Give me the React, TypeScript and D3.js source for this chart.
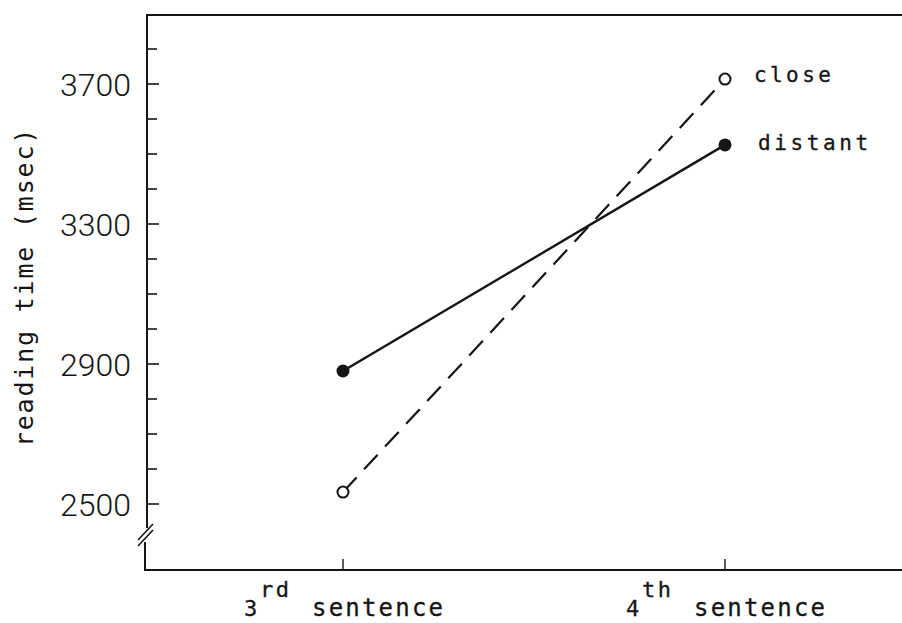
import React from 'react';
import * as d3 from 'd3';

const sentences = ['3rd', '4th'];
const sentenceNums = ['3', '4'];
const sentenceSups = ['rd', 'th'];
const closeValues = [2534, 3714];
const distantValues = [2880, 3526];
const seriesNames = ['close', 'distant'];
const majorTicks = [2500, 2900, 3300, 3700];
const minorTicks = d3.range(2500, 3801, 100);

const W = 902;
const H = 623;
const ink = '#151515';
const mono = '"DejaVu Sans Mono", "Liberation Mono", monospace';

const App = () => {
  const left = 147;
  const top = 15;
  const bottom = 570;

  const x = d3.scalePoint<string>().domain(sentences).range([343, 725]);
  const y = d3.scaleLinear().domain([2500, 3700]).range([504, 84]);

  const line = d3.line<number>()
    .x((d, i) => x(sentences[i]) as number)
    .y(d => y(d));

  const breakY = 534;
  const monoStyle = { fontFamily: mono, stroke: ink, strokeWidth: 0.3 };

  return (
    <svg width={W} height={H} style={{ position: 'absolute', left: 0, top: 0, background: '#fff' }}>
      {/* frame */}
      <line x1={left} y1={top} x2={W} y2={top} stroke={ink} strokeWidth={2} />
      <line x1={left} y1={top - 1} x2={left} y2={breakY - 6} stroke={ink} strokeWidth={2} />
      <line x1={left - 2} y1={breakY + 8} x2={left - 2} y2={bottom + 1} stroke={ink} strokeWidth={2} />
      <line x1={left - 3} y1={bottom} x2={W} y2={bottom} stroke={ink} strokeWidth={2} />
      {/* axis break */}
      <line x1={left - 9} y1={breakY + 6} x2={left + 6} y2={breakY - 10} stroke={ink} strokeWidth={1.6} />
      <line x1={left - 9} y1={breakY + 12} x2={left + 6} y2={breakY - 4} stroke={ink} strokeWidth={1.6} />

      {/* y ticks */}
      {minorTicks.map(t => (
        <line key={t} x1={left} x2={left + (majorTicks.includes(t) ? 12 : 10)} y1={y(t)} y2={y(t)}
          stroke={ink} strokeWidth={1.6} />
      ))}
      {majorTicks.map(t => (
        <text key={t} x={131} y={y(t)} dy="0.36em" textAnchor="end"
          style={{ fontFamily: 'Roboto, "Liberation Sans", sans-serif', fontWeight: 300, fontSize: 32 }}
          fill={ink}>{t}</text>
      ))}
      <text transform={`translate(33,287) rotate(-90)`} textAnchor="middle" fill={ink}
        style={{ fontFamily: mono, fontSize: 25, letterSpacing: 1.8 }}>reading time (msec)</text>

      {/* x ticks */}
      {sentences.map((s, i) => {
        const gx = (x(s) as number) + 1 - 100;
        return (
          <g key={s}>
            <line x1={x(s)} x2={x(s)} y1={bottom} y2={bottom - 11} stroke={ink} strokeWidth={1.4} />
            <text x={gx} y={616} fill={ink} style={{ ...monoStyle, fontSize: 22 }}>{sentenceNums[i]}</text>
            <text x={gx + 16} y={597} fill={ink} style={{ ...monoStyle, fontSize: 22, letterSpacing: 2.5 }}>{sentenceSups[i]}</text>
            <text x={gx + 68} y={616} fill={ink} style={{ ...monoStyle, fontSize: 24, letterSpacing: 2.2 }}>sentence</text>
          </g>
        );
      })}

      {/* series */}
      <path d={line(distantValues) as string} fill="none" stroke={ink} strokeWidth={2.4} />
      <path d={line(closeValues) as string} fill="none" stroke={ink} strokeWidth={2.2}
        strokeDasharray="20 11" />
      {distantValues.map((v, i) => (
        <circle key={'d' + i} cx={x(sentences[i])} cy={y(v)} r={6.5} fill={ink} />
      ))}
      {closeValues.map((v, i) => (
        <circle key={'c' + i} cx={x(sentences[i])} cy={y(v)} r={5.5} fill="#fff" stroke={ink} strokeWidth={2} />
      ))}

      {/* labels */}
      <text x={754} y={82} fill={ink} style={{ ...monoStyle, fontSize: 21, letterSpacing: 3.4 }}>{seriesNames[0]}</text>
      <text x={758} y={150} fill={ink} style={{ ...monoStyle, fontSize: 21, letterSpacing: 3.6 }}>{seriesNames[1]}</text>
    </svg>
  );
};

export default App;
